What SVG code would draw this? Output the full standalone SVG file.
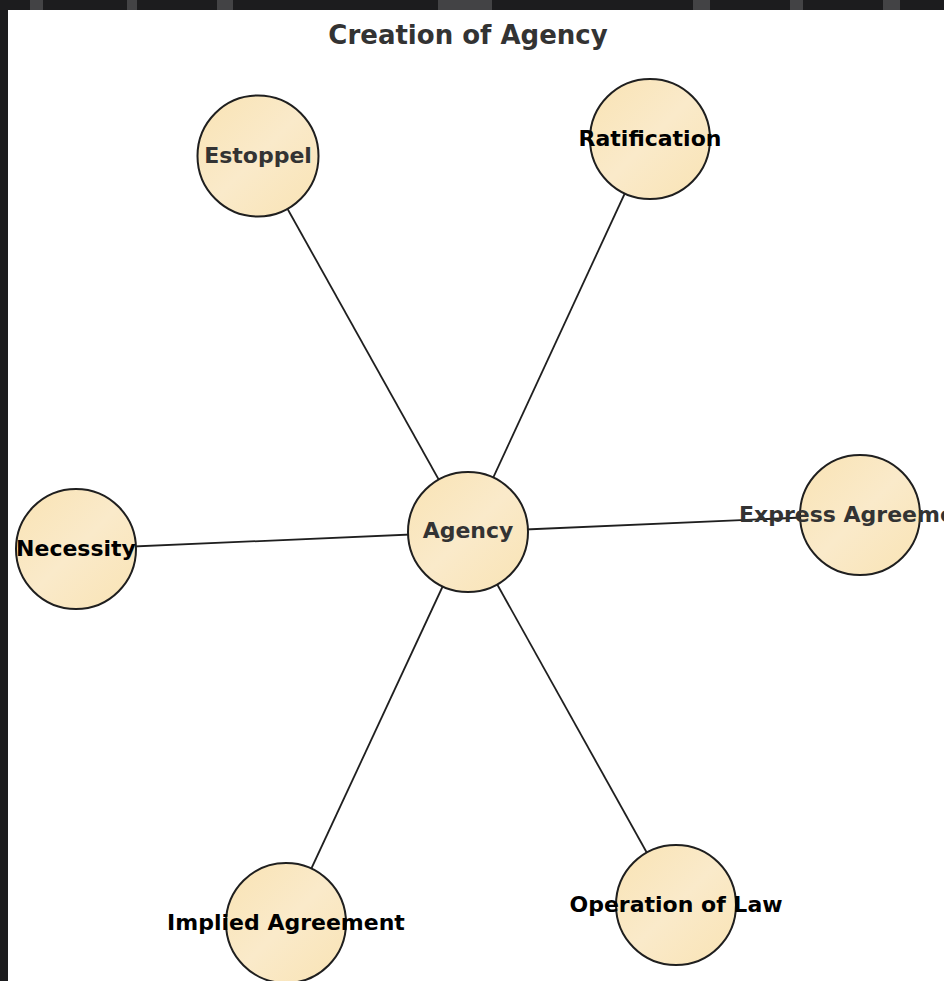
<svg xmlns="http://www.w3.org/2000/svg" width="944" height="981" viewBox="0 0 944 981">
<defs>
<linearGradient id="nodeFill" x1="0" y1="0" x2="1" y2="1">
<stop offset="0" stop-color="#F9E3B4"/>
<stop offset="0.5" stop-color="#FAEACA"/>
<stop offset="1" stop-color="#F9E3B4"/>
</linearGradient>
<style>
.node circle{fill:url(#nodeFill);stroke:#1f1f1f;stroke-width:2}
.lbl{font-family:"DejaVu Sans",sans-serif;font-weight:bold;font-size:22px;text-anchor:middle}
.dk{fill:#333333}
.bk{fill:#000000}
.edge{stroke:#1f1f1f;stroke-width:1.8;fill:none}
</style>
</defs>
<rect x="0" y="0" width="944" height="981" fill="#1c1c1e"/>
<g fill="#6a6a6c" opacity="0.5">
<rect x="30" y="0" width="13" height="10"/>
<rect x="127" y="0" width="10" height="10"/>
<rect x="217" y="0" width="16" height="10"/>
<rect x="438" y="0" width="54" height="10"/>
<rect x="693" y="0" width="17" height="10"/>
<rect x="790" y="0" width="13" height="10"/>
<rect x="883" y="0" width="17" height="10"/>
</g>
<rect x="8" y="10" width="936" height="971" fill="#ffffff"/>
<text x="468" y="44" text-anchor="middle" font-family="'DejaVu Sans',sans-serif" font-weight="bold" font-size="26" fill="#333333">Creation of Agency</text>
<g id="edges">
<line class="edge" x1="468" y1="532" x2="258" y2="156"/>
<line class="edge" x1="468" y1="532" x2="650" y2="139"/>
<line class="edge" x1="468" y1="532" x2="76" y2="549"/>
<line class="edge" x1="468" y1="532" x2="860" y2="515"/>
<line class="edge" x1="468" y1="532" x2="286" y2="923"/>
<line class="edge" x1="468" y1="532" x2="676" y2="905"/>
</g>
<g id="node-agency" class="node"><circle cx="468" cy="532" r="60"/><text class="lbl dk" x="468" y="538">Agency</text></g>
<g id="node-estoppel" class="node"><circle cx="258" cy="156" r="60.5"/><text class="lbl dk" x="258" y="163">Estoppel</text></g>
<g id="node-ratification" class="node"><circle cx="650" cy="139" r="60"/><text class="lbl bk" x="650" y="146">Ratification</text></g>
<g id="node-necessity" class="node"><circle cx="76" cy="549" r="60"/><text class="lbl bk" x="76" y="556">Necessity</text></g>
<g id="node-express" class="node"><circle cx="860" cy="515" r="60"/><text class="lbl dk" x="860" y="522">Express Agreement</text></g>
<g id="node-implied" class="node"><circle cx="286" cy="923" r="60"/><text class="lbl bk" x="286" y="930">Implied Agreement</text></g>
<g id="node-operation" class="node"><circle cx="676" cy="905" r="60"/><text class="lbl bk" x="676" y="912">Operation of Law</text></g>
</svg>
